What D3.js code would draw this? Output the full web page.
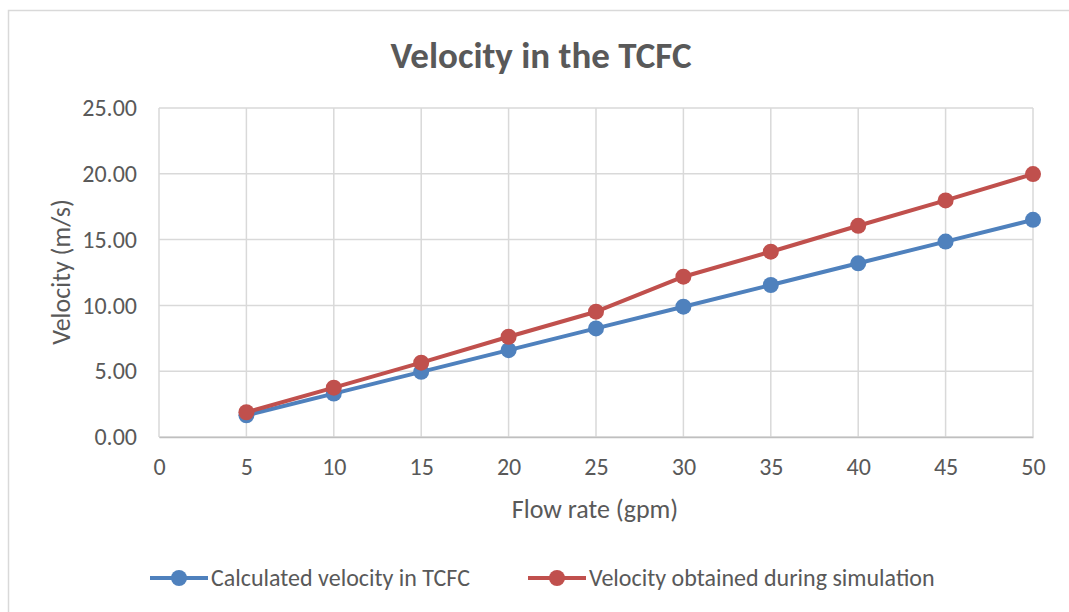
<!DOCTYPE html>
<html>
<head>
<meta charset="utf-8">
<script src="https://cdn.jsdelivr.net/npm/d3@7"></script>
<style>
  body { margin: 0; background: #fff; }
  svg text { font-family: Carlito, Calibri, Lato, sans-serif; fill: #595959; }
</style>
</head>
<body>
<svg id="chart" width="1069" height="612"></svg>
<script>
// data
const flowRates = [5, 10, 15, 20, 25, 30, 35, 40, 45, 50];
const calculated = [1.65, 3.30, 4.95, 6.60, 8.25, 9.90, 11.55, 13.20, 14.85, 16.50];
const simulated = [1.88, 3.75, 5.65, 7.62, 9.52, 12.18, 14.08, 16.05, 17.98, 19.98];
const xTicks = [0, 5, 10, 15, 20, 25, 30, 35, 40, 45, 50];
const yTicks = [0, 5, 10, 15, 20, 25];
const seriesNames = ["Calculated velocity in TCFC", "Velocity obtained during simulation"];
const seriesColors = ["#4f81bd", "#c0504d"];

const svg = d3.select("#chart");
const margin = { top: 108, right: 36, bottom: 175, left: 159 };
const width = 1069 - margin.left - margin.right,
    height = 612 - margin.top - margin.bottom;

// outer chart frame
svg.append("rect")
    .attr("x", 8.5).attr("y", 10.5)
    .attr("width", 1080).attr("height", 640)
    .attr("fill", "none")
    .attr("stroke", "#d9d9d9")
    .attr("stroke-width", 1.5);

const x = d3.scaleLinear().domain([0, 50]).range([0, width]);
const y = d3.scaleLinear().domain([0, 25]).range([height, 0]);

const g = svg.append("g").attr("transform", `translate(${margin.left},${margin.top})`);

// gridlines
g.append("g")
    .selectAll("line")
    .data(yTicks)
    .enter().append("line")
    .attr("x1", 0).attr("x2", width)
    .attr("y1", d => y(d)).attr("y2", d => y(d))
    .attr("stroke", "#d9d9d9")
    .attr("stroke-width", 1.5);

g.append("g")
    .selectAll("line")
    .data(xTicks)
    .enter().append("line")
    .attr("y1", 0).attr("y2", height)
    .attr("x1", d => x(d)).attr("x2", d => x(d))
    .attr("stroke", "#d9d9d9")
    .attr("stroke-width", 1.5);

// x axis
const xAxis = g.append("g")
    .attr("transform", `translate(0,${height})`)
    .call(d3.axisBottom(x).tickValues(xTicks).tickSize(0).tickPadding(21));
xAxis.select(".domain").attr("stroke", "#bfbfbf").attr("stroke-width", 1.5);
xAxis.selectAll("text").style("font-size", "24px");

// y axis
const yAxis = g.append("g")
    .call(d3.axisLeft(y).tickValues(yTicks).tickSize(0).tickPadding(22).tickFormat(d3.format(".2f")));
yAxis.select(".domain").remove();
yAxis.selectAll("text").style("font-size", "24px");

// series
const series = [calculated, simulated];
const line = d3.line()
    .x((d, i) => x(flowRates[i]))
    .y(d => y(d));

series.forEach((vals, s) => {
    g.append("path")
        .datum(vals)
        .attr("d", line)
        .attr("fill", "none")
        .attr("stroke", seriesColors[s])
        .attr("stroke-width", 4)
        .attr("stroke-linejoin", "round");
    g.selectAll(".dot" + s)
        .data(vals)
        .enter().append("circle")
        .attr("class", "dot" + s)
        .attr("cx", (d, i) => x(flowRates[i]))
        .attr("cy", d => y(d))
        .attr("r", 8)
        .attr("fill", seriesColors[s]);
});

// title and axis titles
svg.append("text")
    .attr("x", 541).attr("y", 68)
    .attr("text-anchor", "middle")
    .style("font-size", "37px")
    .style("font-weight", "bold")
    .text("Velocity in the TCFC");

svg.append("text")
    .attr("x", margin.left + width / 2 - 1).attr("y", 518)
    .attr("text-anchor", "middle")
    .style("font-size", "26px")
    .text("Flow rate (gpm)");

svg.append("text")
    .attr("transform", "translate(70,272) rotate(-90)")
    .attr("text-anchor", "middle")
    .style("font-size", "26px")
    .text("Velocity (m/s)");

// legend
const legendX = [150, 528];
seriesNames.forEach((name, s) => {
    const lg = svg.append("g").attr("transform", `translate(${legendX[s]},578)`);
    lg.append("line")
        .attr("x1", 0).attr("x2", 58)
        .attr("stroke", seriesColors[s])
        .attr("stroke-width", 4);
    lg.append("circle")
        .attr("cx", 29).attr("r", 8)
        .attr("fill", seriesColors[s]);
    lg.append("text")
        .attr("x", 61).attr("dy", "0.35em")
        .style("font-size", "24px")
        .text(name);
});
</script>
</body>
</html>
